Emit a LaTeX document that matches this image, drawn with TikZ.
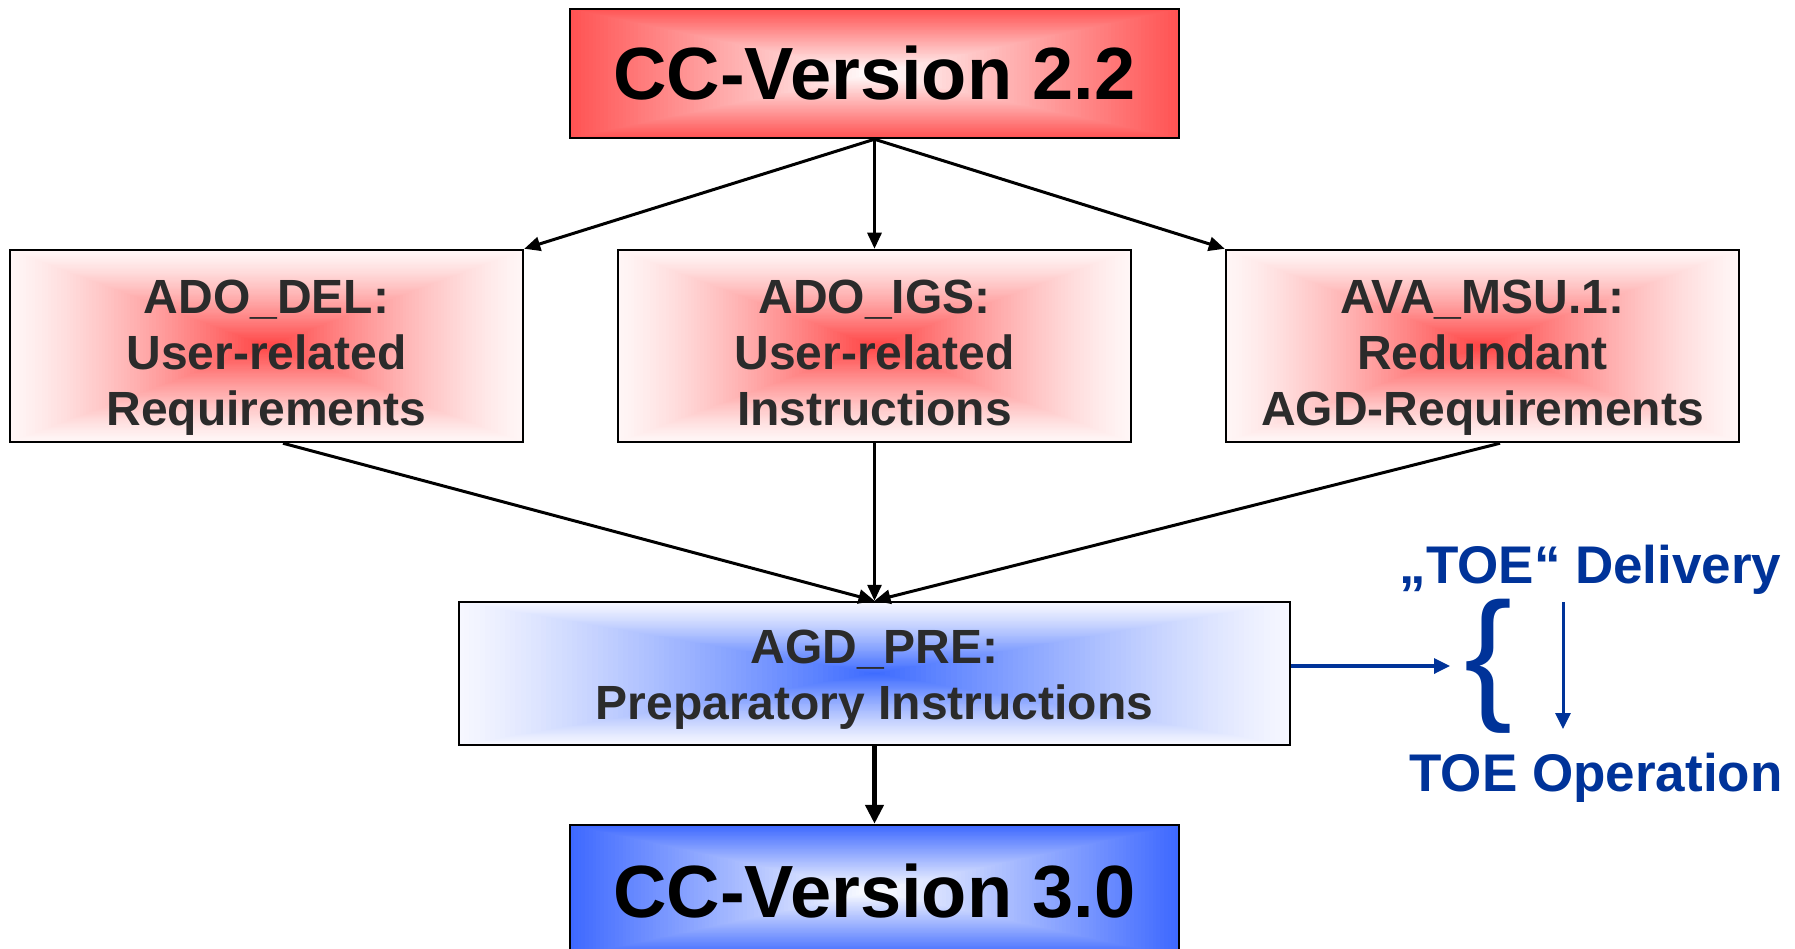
\documentclass[tikz,border=0pt]{standalone}
\usepackage{fontspec}
\setmainfont{Liberation Sans}
\usetikzlibrary{arrows.meta}

\definecolor{rimred}{HTML}{FF5252}
\definecolor{corered}{HTML}{FF4444}
\definecolor{palered}{HTML}{FFF6F6}
\definecolor{coreblue}{HTML}{3D6BFF}
\definecolor{rimblue}{HTML}{3D68FF}
\definecolor{paleblue}{HTML}{F6F7FF}
\definecolor{toeblue}{HTML}{003399}
\definecolor{inkgray}{HTML}{2B2B2B}

% Rectangular path gradient: nested rectangles shrinking towards the centre.
% #1,#2 = top-left corner, #3,#4 = bottom-right corner,
% #5 = rim colour, #6 = centre colour, #7 = exponent of the blend curve
\newcommand\pathgrad[7]{%
  \foreach \i in {0,...,80}{%
    \pgfmathsetmacro\gt{\i/81}%
    \pgfmathsetmacro\gp{100*((\i+0.5)/81)^#7}%
    \fill[#6!\gp!#5] ({#1+\gt*(#3-#1)/2},{#2+\gt*(#4-#2)/2})
      rectangle ({#3-\gt*(#3-#1)/2},{#4-\gt*(#4-#2)/2});
  }}

\tikzset{
  frame/.style={draw=black, line width=2.5pt, inner sep=0pt, fill=none},
  bigtext/.style={font=\fontsize{74}{80}\selectfont\bfseries, text=black},
  midtext/.style={font=\fontsize{48}{56}\selectfont\bfseries, text=inkgray, inner sep=0pt},
  flow/.style={draw=black, line width=3pt, -{Triangle[length=16pt,width=14pt]}},
  bluearrow/.style={draw=toeblue, line width=3.3pt, -{Triangle[length=16pt,width=15pt]}},
  toetext/.style={font=\fontsize{53}{60}\selectfont\bfseries, text=toeblue, inner sep=0pt},
}

\begin{document}
\begin{tikzpicture}[x=1pt,y=-1pt]
\useasboundingbox (0,0) rectangle (1795,949);
\clip (0,0) rectangle (1795,949);

% shaded fills
\pathgrad{570}{9}{1179}{138}{rimred}{white}{1}
\pathgrad{10}{250}{523}{442}{palered}{corered}{1.3}
\pathgrad{618}{250}{1131}{442}{palered}{corered}{1.3}
\pathgrad{1226}{250}{1739}{442}{palered}{corered}{1.3}
\pathgrad{459}{602}{1290}{745}{paleblue}{coreblue}{1.2}
\pathgrad{570}{825}{1179}{957}{rimblue}{white}{1}

% boxes
\node[frame, bigtext, minimum width=609pt, minimum height=129pt] (v22) at (874.5,73.5) {CC-Version 2.2};
\node[frame, minimum width=513pt, minimum height=192pt] (b1) at (266.5,346) {};
\node[frame, minimum width=513pt, minimum height=192pt] (b2) at (874.5,346) {};
\node[frame, minimum width=513pt, minimum height=192pt] (b3) at (1482.5,346) {};
\node[frame, minimum width=831pt, minimum height=143pt] (agd) at (874.5,673.5) {};
\node[frame, bigtext, minimum width=609pt, minimum height=132pt] (v30) at (874.5,891) {CC-Version 3.0};

% box texts
\node[midtext] (t1) at ([yshift=-12pt]b1.center) {\begin{tabular}{@{}c@{}}ADO\_DEL:\\User-related\\Requirements\end{tabular}};
\node[midtext] (t2) at ([yshift=-12pt]b2.center) {\begin{tabular}{@{}c@{}}ADO\_IGS:\\User-related\\Instructions\end{tabular}};
\node[midtext] (t3) at ([yshift=-12pt]b3.center) {\begin{tabular}{@{}c@{}}AVA\_MSU.1:\\Redundant\\AGD-Requirements\end{tabular}};
\node[midtext] (t4) at ([yshift=-7pt]agd.center) {\begin{tabular}{@{}c@{}}AGD\_PRE:\\Preparatory Instructions\end{tabular}};

% delivery / operation side note
\node[toetext, anchor=base] (deliv) at (1590.5,583) {„TOE“ Delivery};
\node[toetext, anchor=base] (oper) at (1596,791) {TOE Operation};
\node[toetext, font=\fontsize{144}{144}\selectfont, anchor=base west] (brace) at (1464,703) {\{};
\coordinate (bracein) at (1450,666);
\coordinate (dtop) at (1563,602);
\coordinate (dbot) at (1563,729);

% connectors
\draw[flow] (v22.south) -- (b1.north east);
\draw[flow] (v22.south) -- (b2.north);
\draw[flow] (v22.south) -- (b3.north west);
\draw[flow] ([xshift=16.5pt]b1.south) -- (agd.north);
\draw[flow] (b2.south) -- (agd.north);
\draw[flow] ([xshift=17.5pt]b3.south) -- (agd.north);
\draw[flow, line width=4.5pt, -{Triangle[length=19pt,width=18pt]}] (agd.south) -- (v30.north);
\draw[bluearrow] ([yshift=7.5pt]agd.east) -- (bracein);
\draw[bluearrow, line width=3pt] (dtop) -- (dbot);
\end{tikzpicture}
\end{document}
